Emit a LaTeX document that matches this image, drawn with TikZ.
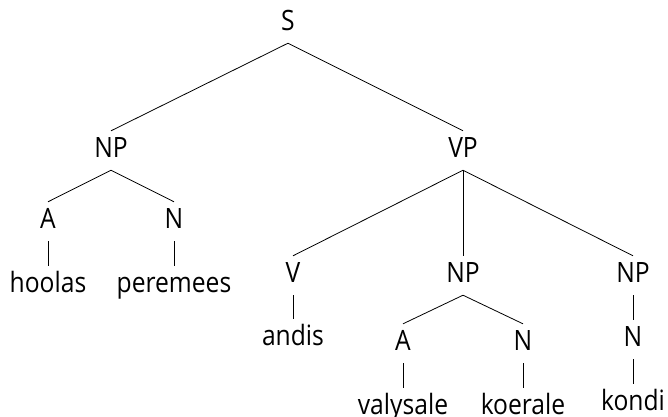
\documentclass[tikz,border=0pt]{standalone}
\usepackage{fontspec}
\setsansfont[FakeStretch=0.88]{Open Sans}
\begin{document}
\begin{tikzpicture}[x=1pt,y=-1pt,
  lbl/.style={anchor=base,inner sep=0pt,text height=26pt,text depth=13pt,
    font=\sffamily\fontsize{28}{34}\selectfont},
  edge/.style={draw,line width=0.8pt}]
\useasboundingbox (0,0) rectangle (668,416);
\node[lbl] (S) at (288,30) {S};
\node[lbl] (NPa) at (111,157) {NP};
\node[lbl] (VP) at (463,157) {VP};
\node[lbl] (Aa) at (48,228) {A};
\node[lbl] (Na) at (174,228) {N};
\node[lbl] (hoolas) at (48,292) {hoolas};
\node[lbl] (peremees) at (174,292) {peremees};
\node[lbl] (V) at (293,282) {V};
\node[lbl] (NPb) at (463,282) {NP};
\node[lbl] (NPc) at (633,282) {NP};
\node[lbl] (andis) at (293,345) {andis};
\node[lbl] (Ab) at (403,350) {A};
\node[lbl] (Nb) at (523,350) {N};
\node[lbl] (Nc) at (633,346) {N};
\node[lbl] (valysale) at (403,414) {valysale};
\node[lbl] (koerale) at (523,414) {koerale};
\node[lbl] (kondi) at (633,410) {kondi};
\path[edge] (S.south) -- (NPa.north);
\path[edge] (S.south) -- (VP.north);
\path[edge] (NPa.south) -- (Aa.north);
\path[edge] (NPa.south) -- (Na.north);
\path[edge] (Aa.south) -- (hoolas.north);
\path[edge] (Na.south) -- (peremees.north);
\path[edge] (VP.south) -- (V.north);
\path[edge] (VP.south) -- (NPb.north);
\path[edge] (VP.south) -- (NPc.north);
\path[edge] (V.south) -- (andis.north);
\path[edge] (NPb.south) -- (Ab.north);
\path[edge] (NPb.south) -- (Nb.north);
\path[edge] (NPc.south) -- (Nc.north);
\path[edge] (Ab.south) -- (valysale.north);
\path[edge] (Nb.south) -- (koerale.north);
\path[edge] (Nc.south) -- (kondi.north);
\end{tikzpicture}
\end{document}
